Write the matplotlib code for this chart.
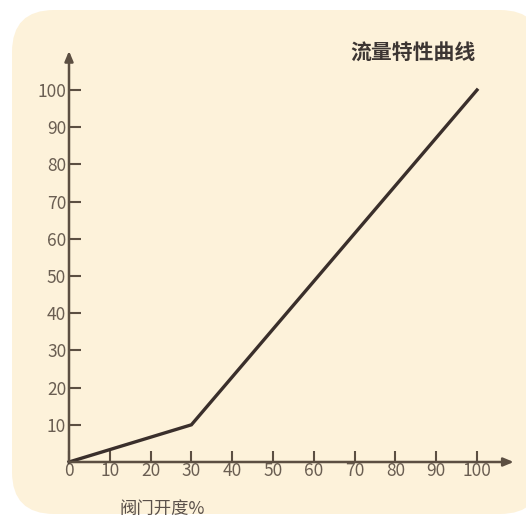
import matplotlib
matplotlib.use("Agg")
from matplotlib import pyplot as plt
from matplotlib.patches import FancyBboxPatch

# valve opening (%) vs flow (%)
opening = [0, 30, 100]
flow = [0, 10, 100]
x_ticks = [0, 10, 20, 30, 40, 50, 60, 70, 80, 90, 100]
y_ticks = [10, 20, 30, 40, 50, 60, 70, 80, 90, 100]
title = "流量特性曲线"
x_label = "阀门开度%"

plt.rcParams['font.family'] = ['Noto Sans CJK SC', 'DejaVu Sans']

W, H = 526, 520
fig = plt.figure(figsize=(W / 100, H / 100), dpi=100)
fig.patch.set_facecolor("white")

card = FancyBboxPatch((12 / W, 6 / H), 530 / W, 504 / H,
                      boxstyle="round,pad=0,rounding_size=0.08",
                      transform=fig.transFigure, facecolor="#fdf2da",
                      edgecolor="none", zorder=-5, mutation_aspect=W / H)
fig.patches.append(card)

axis_col = "#5c4f42"
text_col = "#6a5e52"

ax = fig.add_axes([69 / W, 58 / H, 408 / W, 372 / H], zorder=2)
ax.set_facecolor("none")
ax.set_xlim(0, 100)
ax.set_ylim(0, 100)
for s in ax.spines.values():
    s.set_visible(False)

ax.plot(opening, flow, color="#3a2f2b", lw=2.4, solid_joinstyle="miter", clip_on=False, zorder=3)

ax.annotate("", xy=(109, 0), xytext=(0, 0), xycoords="data",
            arrowprops=dict(arrowstyle="-|>,head_length=0.6,head_width=0.25",
                            color=axis_col, lw=1.8, shrinkA=0, shrinkB=0),
            annotation_clip=False)
ax.annotate("", xy=(0, 110.5), xytext=(0, 0), xycoords="data",
            arrowprops=dict(arrowstyle="-|>,head_length=0.6,head_width=0.25",
                            color=axis_col, lw=1.8, shrinkA=0, shrinkB=0),
            annotation_clip=False)

ax.set_xticks(x_ticks)
ax.set_xticklabels([str(v) for v in x_ticks])
ax.set_yticks(y_ticks)
ax.set_yticklabels([str(v) for v in y_ticks])
ax.tick_params(axis="x", direction="in", length=8, width=1.5, color=axis_col,
               labelcolor=text_col, labelsize=12.5, pad=0)
ax.tick_params(axis="y", direction="in", length=8.5, width=1.5, color=axis_col,
               labelcolor=text_col, labelsize=12.5, pad=2)

fig.text(476 / W, 1 - 52 / H, title, ha="right", va="center",
         fontsize=15, fontweight="bold", color="#3d3633")
fig.text(162 / W, 1 - 509 / H, x_label, ha="center", va="center",
         fontsize=12.5, color="#5a504a")

fig.savefig("out.png", dpi=100)
